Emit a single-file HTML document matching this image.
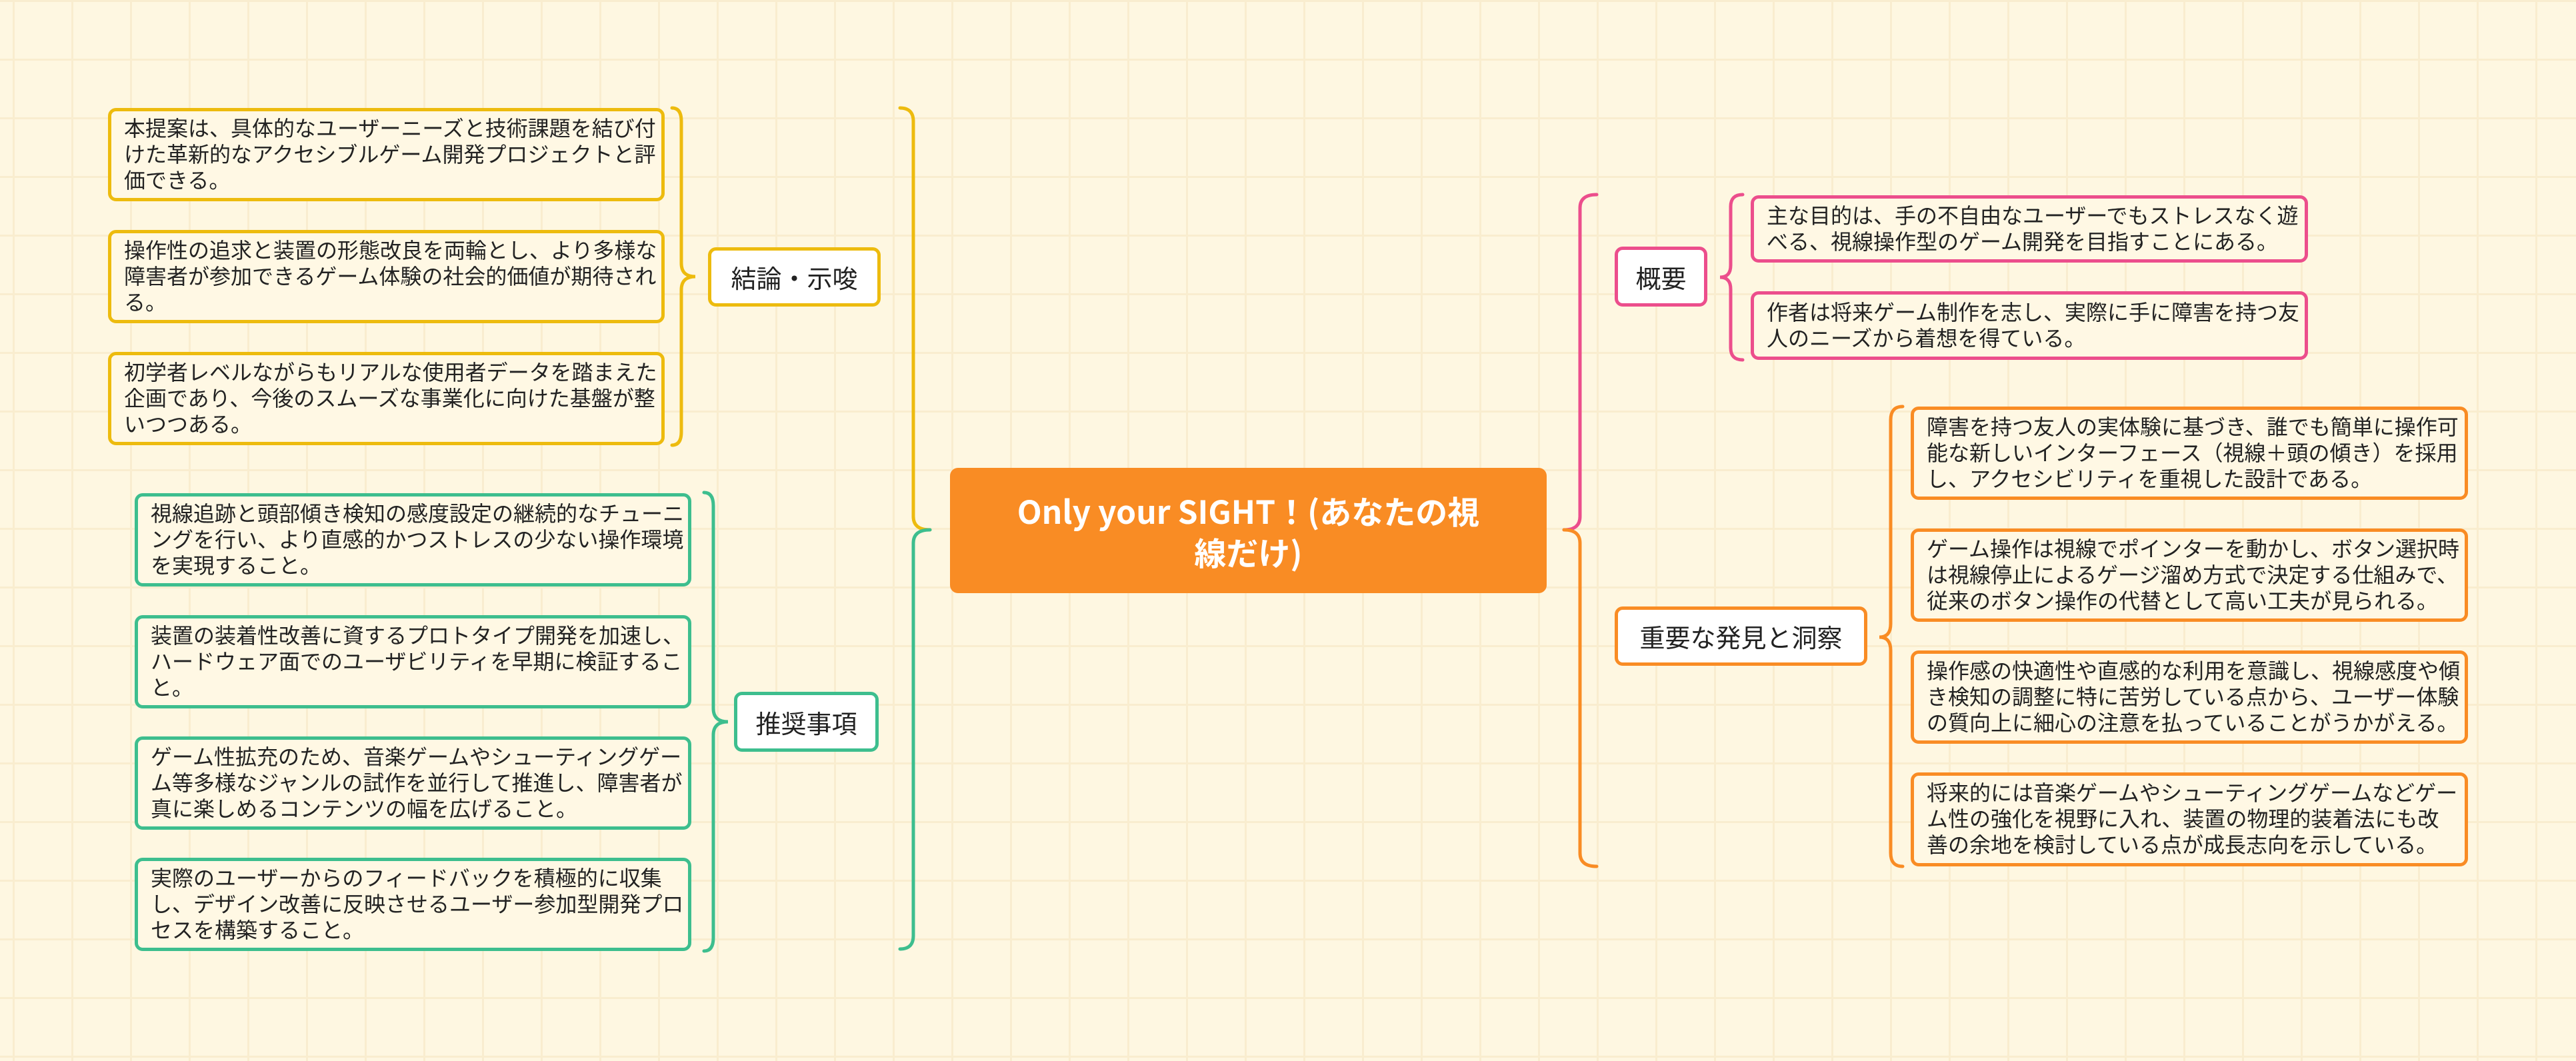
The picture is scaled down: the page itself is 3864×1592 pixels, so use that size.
<!DOCTYPE html>
<html><head><meta charset="utf-8"><style>
html,body{margin:0;padding:0}
body{width:3864px;height:1592px;position:relative;overflow:hidden;background-color:#FEF7E1;
background-image:linear-gradient(to right,#F9EDCF 0,#F9EDCF 3px,transparent 3px),linear-gradient(to bottom,#F9EDCF 0,#F9EDCF 3px,transparent 3px);
background-size:88px 88px;background-position:19px 0;
font-family:"Liberation Sans","Noto Sans CJK JP",sans-serif;color:#222}
.b{position:absolute;box-sizing:border-box;border:5px solid;border-radius:12px;background:#FFF8E4;
display:flex;align-items:center;padding:0 0 0 19px;font-size:32px;line-height:39px}
.l{position:absolute;box-sizing:border-box;border:5px solid;border-radius:12px;background:#fff;
display:flex;align-items:center;justify-content:center;font-size:38px}
.y{border-color:#EDBB0E}.g{border-color:#3DBE8E}.p{border-color:#EC4E8C}.o{border-color:#F98C24}
svg{position:absolute;left:0;top:0}
</style></head><body>
<svg width="3864" height="1592" fill="none" stroke-width="5" stroke-linecap="round">
<path stroke="#EDBB0E" d="M1008,162 Q1022,162 1022,182 L1022,395 Q1022,415 1043,415 Q1022,415 1022,435 L1022,648 Q1022,668 1008,668"/>
<path stroke="#3DBE8E" d="M1056,739 Q1070,739 1070,759 L1070,1063 Q1070,1083 1092,1083 Q1070,1083 1070,1103 L1070,1407 Q1070,1427 1056,1427"/>
<path stroke="#EDBB0E" d="M1350,162 Q1370,162 1370,182 L1370,775 Q1370,795 1395,795"/>
<path stroke="#3DBE8E" d="M1395,795 Q1370,795 1370,815 L1370,1404 Q1370,1424 1350,1424"/>
<path stroke="#EC4E8C" d="M2395,292 Q2370,292 2370,312 L2370,775 Q2370,795 2346,795"/>
<path stroke="#F98C24" d="M2346,795 Q2370,795 2370,815 L2370,1280 Q2370,1300 2395,1300"/>
<path stroke="#EC4E8C" d="M2614,292 Q2596,292 2596,310 L2596,398 Q2596,416 2580,416 Q2596,416 2596,434 L2596,522 Q2596,540 2614,540"/>
<path stroke="#F98C24" d="M2854,610 Q2836,610 2836,630 L2836,936 Q2836,956 2819,956 Q2836,956 2836,976 L2836,1280 Q2836,1300 2854,1300"/>
</svg>

<div class="b y" style="left:162px;top:162px;width:835px;height:140px">本提案は、具体的なユーザーニーズと技術課題を結び付<br>けた革新的なアクセシブルゲーム開発プロジェクトと評<br>価できる。</div>
<div class="b y" style="left:162px;top:345px;width:835px;height:140px">操作性の追求と装置の形態改良を両輪とし、より多様な<br>障害者が参加できるゲーム体験の社会的価値が期待され<br>る。</div>
<div class="b y" style="left:162px;top:528px;width:835px;height:140px">初学者レベルながらもリアルな使用者データを踏まえた<br>企画であり、今後のスムーズな事業化に向けた基盤が整<br>いつつある。</div>
<div class="l y" style="left:1062px;top:371px;width:259px;height:89px">結論・示唆</div>

<div class="b g" style="left:202px;top:740px;width:835px;height:140px">視線追跡と頭部傾き検知の感度設定の継続的なチューニ<br>ングを行い、より直感的かつストレスの少ない操作環境<br>を実現すること。</div>
<div class="b g" style="left:202px;top:923px;width:835px;height:140px">装置の装着性改善に資するプロトタイプ開発を加速し、<br>ハードウェア面でのユーザビリティを早期に検証するこ<br>と。</div>
<div class="b g" style="left:202px;top:1105px;width:835px;height:140px">ゲーム性拡充のため、音楽ゲームやシューティングゲー<br>ム等多様なジャンルの試作を並行して推進し、障害者が<br>真に楽しめるコンテンツの幅を広げること。</div>
<div class="b g" style="left:202px;top:1287px;width:835px;height:140px">実際のユーザーからのフィードバックを積極的に収集<br>し、デザイン改善に反映させるユーザー参加型開発プロ<br>セスを構築すること。</div>
<div class="l g" style="left:1101px;top:1038px;width:217px;height:90px">推奨事項</div>

<div style="position:absolute;left:1425px;top:702px;width:895px;height:188px;background:#F98C24;border-radius:12px;display:flex;align-items:center;justify-content:center;text-align:center;color:#fff;font-weight:bold;font-size:48px;line-height:62px;font-family:'Noto Sans CJK JP',sans-serif">Only your SIGHT！(あなたの視<br>線だけ)</div>

<div class="l p" style="left:2422px;top:370px;width:139px;height:90px">概要</div>
<div class="b p" style="left:2626px;top:293px;width:836px;height:101px">主な目的は、手の不自由なユーザーでもストレスなく遊<br>べる、視線操作型のゲーム開発を目指すことにある。</div>
<div class="b p" style="left:2626px;top:437px;width:836px;height:103px">作者は将来ゲーム制作を志し、実際に手に障害を持つ友<br>人のニーズから着想を得ている。</div>

<div class="l o" style="left:2422px;top:910px;width:379px;height:89px">重要な発見と洞察</div>
<div class="b o" style="left:2866px;top:610px;width:836px;height:140px">障害を持つ友人の実体験に基づき、誰でも簡単に操作可<br>能な新しいインターフェース（視線＋頭の傾き）を採用<br>し、アクセシビリティを重視した設計である。</div>
<div class="b o" style="left:2866px;top:793px;width:836px;height:140px">ゲーム操作は視線でポインターを動かし、ボタン選択時<br>は視線停止によるゲージ溜め方式で決定する仕組みで、<br>従来のボタン操作の代替として高い工夫が見られる。</div>
<div class="b o" style="left:2866px;top:976px;width:836px;height:140px">操作感の快適性や直感的な利用を意識し、視線感度や傾<br>き検知の調整に特に苦労している点から、ユーザー体験<br>の質向上に細心の注意を払っていることがうかがえる。</div>
<div class="b o" style="left:2866px;top:1159px;width:836px;height:141px">将来的には音楽ゲームやシューティングゲームなどゲー<br>ム性の強化を視野に入れ、装置の物理的装着法にも改<br>善の余地を検討している点が成長志向を示している。</div>
</body></html>
